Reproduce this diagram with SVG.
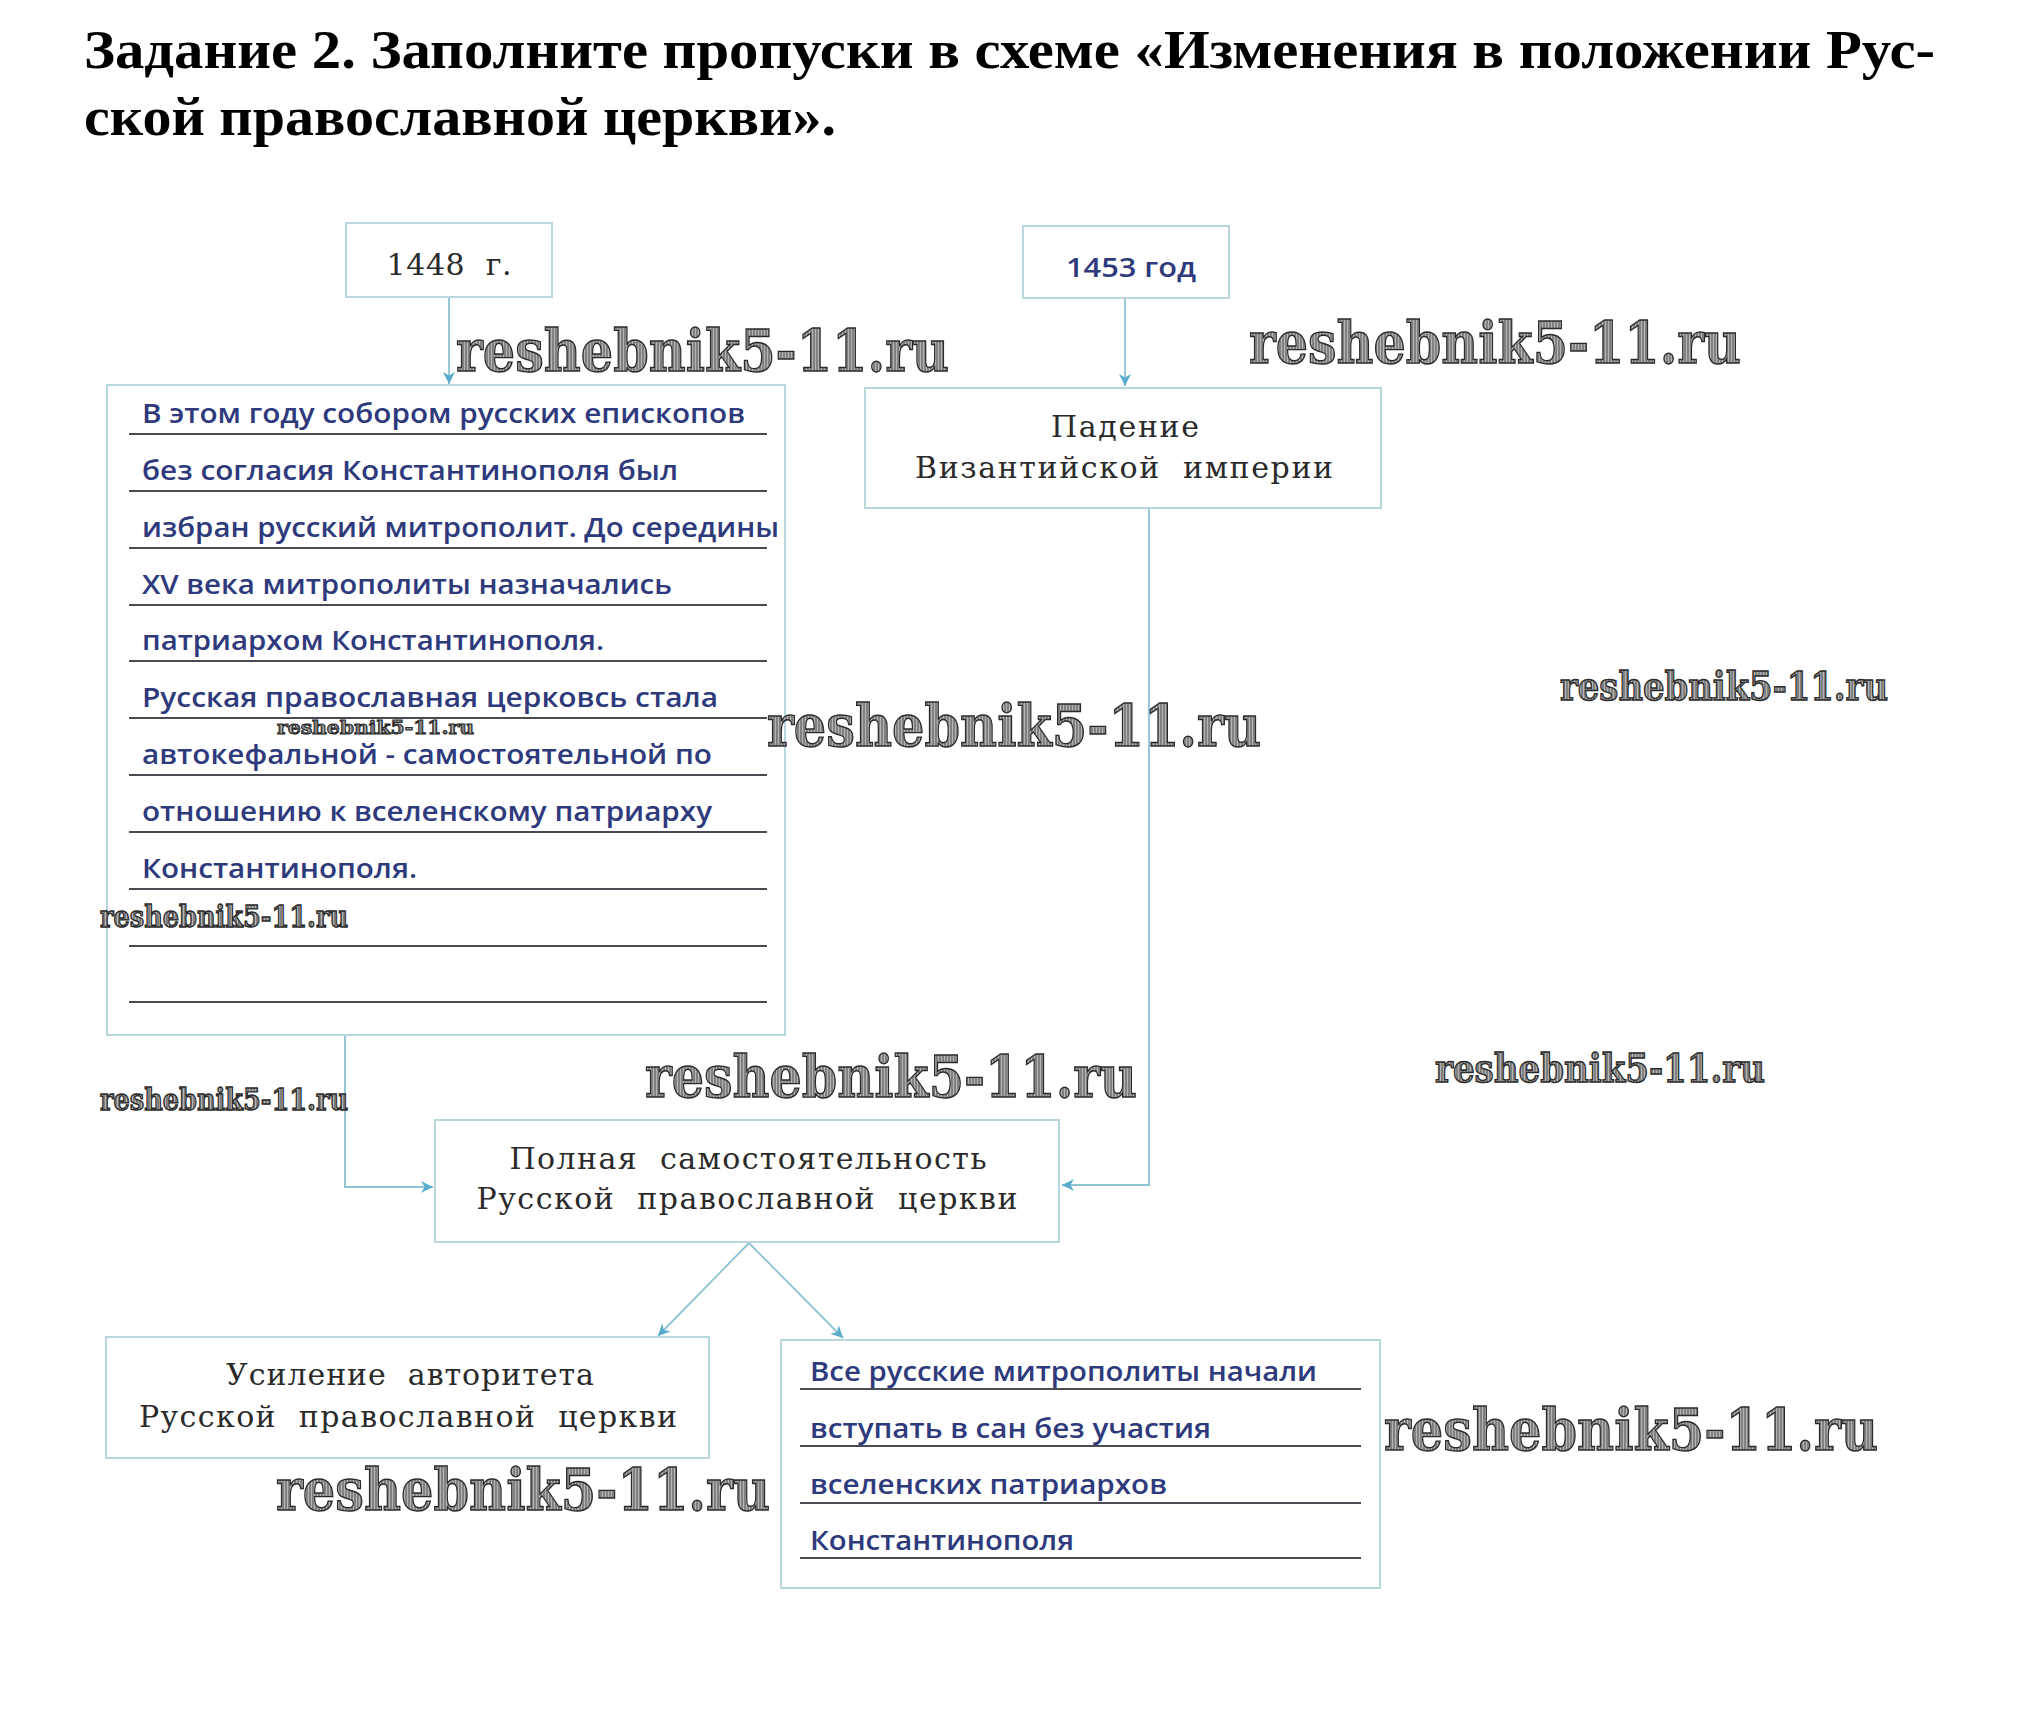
<svg xmlns="http://www.w3.org/2000/svg" width="2024" height="1729" viewBox="0 0 2024 1729">
<style>
.title{font-family:"Liberation Serif","Times New Roman",serif;font-weight:bold;font-size:55px;fill:#000}
.box{fill:#fff;stroke:#b9d6df;stroke-width:2}
.serif{font-family:"DejaVu Serif","Liberation Serif",serif;font-size:30px;fill:#2a2a2a}
.blue{font-family:"Open Sans","Liberation Sans",sans-serif;font-weight:600;font-size:27px;fill:#2e3a7c}
.rule{stroke:#4a4a52;stroke-width:2.2}
.conn{fill:none;stroke:#8ec3d4;stroke-width:1.8}
.wm{font-family:"DejaVu Serif","Liberation Serif",serif;font-weight:bold;fill:url(#hatch);stroke:#2a2a2a;stroke-width:1.1}
</style>
<defs>
<pattern id="hatch" width="3" height="3" patternUnits="userSpaceOnUse">
<rect width="3" height="3" fill="#b4b4b4"/>
<line x1="1" y1="0" x2="1" y2="3" stroke="#4e4e4e" stroke-width="1"/>
</pattern>
<marker id="arr" viewBox="0 0 10 10" refX="10" refY="5" markerWidth="12" markerHeight="12" markerUnits="userSpaceOnUse" orient="auto">
<path d="M0,0 L10,5 L0,10 L3,5 z" fill="#5aaccc"/>
</marker>
</defs>

<g id="title">
<text class="title" x="84" y="68" textLength="1851" lengthAdjust="spacingAndGlyphs">Задание 2. Заполните пропуски в схеме «Изменения в положении Рус-</text>
<text class="title" x="84" y="135" textLength="752" lengthAdjust="spacingAndGlyphs">ской православной церкви».</text>
</g>

<g id="connectors">
<line class="conn" x1="449" y1="297" x2="449" y2="384" marker-end="url(#arr)"/>
<line class="conn" x1="1125" y1="299" x2="1125" y2="386" marker-end="url(#arr)"/>
<polyline class="conn" points="345,1035 345,1187 433,1187" marker-end="url(#arr)"/>
<polyline class="conn" points="1149,508 1149,1185 1062,1185" marker-end="url(#arr)"/>
<line class="conn" x1="749" y1="1243" x2="658" y2="1336" marker-end="url(#arr)"/>
<line class="conn" x1="749" y1="1243" x2="843" y2="1338" marker-end="url(#arr)"/>
</g>

<g id="node-1448">
<rect class="box" x="346" y="223" width="206" height="74"/>
<text class="serif" x="449" y="275" text-anchor="middle" font-size="32" textLength="125" lengthAdjust="spacing" xml:space="preserve">1448  г.</text>
</g>

<g id="node-1453">
<rect class="box" x="1023" y="226" width="206" height="72"/>
<text class="blue" x="1066" y="277" font-weight="bold" font-size="30" textLength="130" lengthAdjust="spacingAndGlyphs">1453 год</text>
</g>

<g id="node-byzantium">
<rect class="box" x="865" y="388" width="516" height="120"/>
<text class="serif" x="1125" y="437" text-anchor="middle" textLength="148" lengthAdjust="spacing">Падение</text>
<text class="serif" x="1124" y="478" text-anchor="middle" textLength="418" lengthAdjust="spacing" xml:space="preserve">Византийской  империи</text>
</g>

<g id="node-1448-answer">
<rect class="box" x="107" y="385" width="678" height="650"/>
<line class="rule" x1="129" y1="434" x2="767" y2="434"/>
<line class="rule" x1="129" y1="491" x2="767" y2="491"/>
<line class="rule" x1="129" y1="548" x2="767" y2="548"/>
<line class="rule" x1="129" y1="605" x2="767" y2="605"/>
<line class="rule" x1="129" y1="661" x2="767" y2="661"/>
<line class="rule" x1="129" y1="718" x2="767" y2="718"/>
<line class="rule" x1="129" y1="775" x2="767" y2="775"/>
<line class="rule" x1="129" y1="832" x2="767" y2="832"/>
<line class="rule" x1="129" y1="889" x2="767" y2="889"/>
<line class="rule" x1="129" y1="946" x2="767" y2="946"/>
<line class="rule" x1="129" y1="1002" x2="767" y2="1002"/>
<text class="blue" x="142" y="423" textLength="603" lengthAdjust="spacingAndGlyphs">В этом году собором русских епископов</text>
<text class="blue" x="142" y="480" textLength="536" lengthAdjust="spacingAndGlyphs">без согласия Константинополя был</text>
<text class="blue" x="142" y="537" textLength="637" lengthAdjust="spacingAndGlyphs">избран русский митрополит. До середины</text>
<text class="blue" x="142" y="594" textLength="530" lengthAdjust="spacingAndGlyphs">XV века митрополиты назначались</text>
<text class="blue" x="142" y="650" textLength="462" lengthAdjust="spacingAndGlyphs">патриархом Константинополя.</text>
<text class="blue" x="142" y="707" textLength="576" lengthAdjust="spacingAndGlyphs">Русская православная церковсь стала</text>
<text class="blue" x="142" y="764" textLength="570" lengthAdjust="spacingAndGlyphs">автокефальной - самостоятельной по</text>
<text class="blue" x="142" y="821" textLength="570" lengthAdjust="spacingAndGlyphs">отношению к вселенскому патриарху</text>
<text class="blue" x="142" y="878" textLength="275" lengthAdjust="spacingAndGlyphs">Константинополя.</text>
</g>

<g id="node-independence">
<rect class="box" x="435" y="1120" width="624" height="122"/>
<text class="serif" x="748" y="1169" text-anchor="middle" textLength="477" lengthAdjust="spacing" xml:space="preserve">Полная  самостоятельность</text>
<text class="serif" x="747" y="1209" text-anchor="middle" textLength="541" lengthAdjust="spacing" xml:space="preserve">Русской  православной  церкви</text>
</g>

<g id="node-authority">
<rect class="box" x="106" y="1337" width="603" height="121"/>
<text class="serif" x="410" y="1385" text-anchor="middle" textLength="368" lengthAdjust="spacing" xml:space="preserve">Усиление  авторитета</text>
<text class="serif" x="408" y="1427" text-anchor="middle" textLength="538" lengthAdjust="spacing" xml:space="preserve">Русской  православной  церкви</text>
</g>

<g id="node-metropolitans">
<rect class="box" x="781" y="1340" width="599" height="248"/>
<line class="rule" x1="800" y1="1389" x2="1361" y2="1389"/>
<line class="rule" x1="800" y1="1446" x2="1361" y2="1446"/>
<line class="rule" x1="800" y1="1503" x2="1361" y2="1503"/>
<line class="rule" x1="800" y1="1558" x2="1361" y2="1558"/>
<text class="blue" x="810" y="1381" textLength="507" lengthAdjust="spacingAndGlyphs">Все русские митрополиты начали</text>
<text class="blue" x="810" y="1438" textLength="401" lengthAdjust="spacingAndGlyphs">вступать в сан без участия</text>
<text class="blue" x="810" y="1494" textLength="357" lengthAdjust="spacingAndGlyphs">вселенских патриархов</text>
<text class="blue" x="810" y="1550" textLength="264" lengthAdjust="spacingAndGlyphs">Константинополя</text>
</g>

<g id="watermarks">
<text class="wm" transform="translate(456,371) scale(1,1.25)" font-size="47" textLength="493" lengthAdjust="spacingAndGlyphs">reshebnik5-11.ru</text>
<text class="wm" transform="translate(1249,363) scale(1,1.25)" font-size="47" textLength="492" lengthAdjust="spacingAndGlyphs">reshebnik5-11.ru</text>
<text class="wm" transform="translate(1560,700) scale(1,1.25)" font-size="31" stroke-width="0.8" textLength="328" lengthAdjust="spacingAndGlyphs">reshebnik5-11.ru</text>
<text class="wm" x="277" y="734" font-size="19" stroke-width="0.5" textLength="197" lengthAdjust="spacingAndGlyphs">reshebnik5-11.ru</text>
<text class="wm" transform="translate(767,746) scale(1,1.25)" font-size="47" textLength="494" lengthAdjust="spacingAndGlyphs">reshebnik5-11.ru</text>
<text class="wm" transform="translate(100,927) scale(1,1.25)" font-size="24" stroke-width="0.6" textLength="248" lengthAdjust="spacingAndGlyphs">reshebnik5-11.ru</text>
<text class="wm" transform="translate(100,1110) scale(1,1.25)" font-size="24" stroke-width="0.6" textLength="248" lengthAdjust="spacingAndGlyphs">reshebnik5-11.ru</text>
<text class="wm" transform="translate(645,1097) scale(1,1.25)" font-size="47" textLength="492" lengthAdjust="spacingAndGlyphs">reshebnik5-11.ru</text>
<text class="wm" transform="translate(1435,1082) scale(1,1.25)" font-size="31" stroke-width="0.8" textLength="330" lengthAdjust="spacingAndGlyphs">reshebnik5-11.ru</text>
<text class="wm" transform="translate(1384,1450) scale(1,1.25)" font-size="47" textLength="494" lengthAdjust="spacingAndGlyphs">reshebnik5-11.ru</text>
<text class="wm" transform="translate(276,1510) scale(1,1.25)" font-size="47" textLength="494" lengthAdjust="spacingAndGlyphs">reshebnik5-11.ru</text>
</g>
</svg>
